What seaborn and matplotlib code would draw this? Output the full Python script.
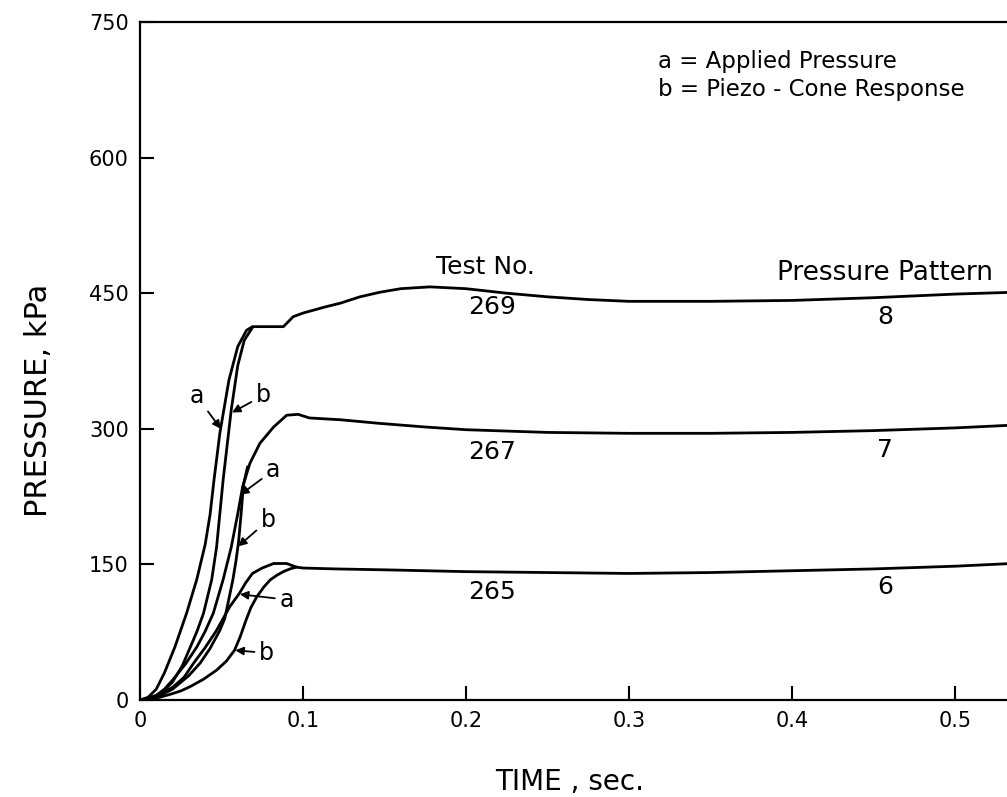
import matplotlib
matplotlib.use("Agg")
import matplotlib.pyplot as plt
import seaborn as sns

# time (s) and pressure (kPa)
# test 269 (pressure pattern 8)
t_269a = [0, 0.005, 0.010, 0.015, 0.0215, 0.0286, 0.0348, 0.040, 0.043, 0.0454, 0.049, 0.0546,
          0.060, 0.0654, 0.069, 0.076, 0.083, 0.088, 0.094, 0.100, 0.106, 0.114, 0.123, 0.135,
          0.147, 0.160, 0.178, 0.200, 0.225, 0.250, 0.275, 0.300, 0.350, 0.400, 0.450, 0.500, 0.535]
p_269a = [0, 3, 12, 30, 59, 96, 133, 172, 205, 243, 295, 354,
          391, 409, 413, 413, 413, 413, 424, 428, 431, 435, 439, 446,
          451, 455, 457, 455, 450, 446, 443, 441, 441, 442, 445, 449, 451]
t_269b = [0, 0.005, 0.010, 0.015, 0.020, 0.026, 0.031, 0.035, 0.039, 0.044, 0.047, 0.049, 0.051,
          0.056, 0.060, 0.064, 0.069]
p_269b = [0, 2, 5, 11, 20, 38, 59, 76, 96, 133, 169, 206, 243, 321, 370, 398, 412]

# test 267 (pressure pattern 7)
t_267a = [0, 0.005, 0.010, 0.015, 0.020, 0.028, 0.035, 0.040, 0.045, 0.051, 0.056, 0.060, 0.063,
          0.0675, 0.0736, 0.082, 0.090, 0.097, 0.104, 0.123, 0.147, 0.175, 0.200, 0.250, 0.300,
          0.350, 0.400, 0.450, 0.500, 0.535]
p_267a = [0, 1, 5, 12, 22, 40, 59, 76, 96, 133, 169, 206, 236,
          262, 284, 302, 315, 316, 312, 310, 306, 302, 299, 296, 295,
          295, 296, 298, 301, 304]
t_267b = [0, 0.005, 0.010, 0.020, 0.030, 0.037, 0.043, 0.049, 0.052, 0.054, 0.057, 0.059, 0.0605,
          0.062, 0.0635, 0.066]
p_267b = [0, 1, 3, 12, 27, 41, 57, 77, 90, 107, 133, 155, 175, 205, 238, 258]

# test 265 (pressure pattern 6)
t_265a = [0, 0.005, 0.010, 0.020, 0.027, 0.033, 0.040, 0.047, 0.051, 0.055, 0.061, 0.065, 0.069,
          0.075, 0.082, 0.090, 0.096]
p_265a = [0, 1, 4, 14, 25, 41, 58, 77, 90, 103, 118, 130, 140, 146, 151, 151, 147]
t_265b = [0, 0.010, 0.018, 0.025, 0.031, 0.039, 0.047, 0.053, 0.058, 0.0615, 0.065, 0.068, 0.0716,
          0.076, 0.080, 0.084, 0.088, 0.092, 0.096, 0.100, 0.120, 0.150, 0.200, 0.250, 0.300,
          0.350, 0.400, 0.450, 0.500, 0.535]
p_265b = [0, 2, 6, 10, 15, 23, 33, 43, 55, 70, 88, 102, 114,
          125, 133, 138, 142, 145, 147, 146, 145, 144, 142, 141, 140,
          141, 143, 145, 148, 151]

x_ticks = [0, 0.1, 0.2, 0.3, 0.4, 0.5]
x_tick_labels = ["0", "0.1", "0.2", "0.3", "0.4", "0.5"]
y_ticks = [0, 150, 300, 450, 600, 750]

test_numbers = ["269", "267", "265"]
patterns = ["8", "7", "6"]

sns.set_style("ticks")
plt.rcParams["font.family"] = ["DejaVu Sans"]
plt.rcParams["text.color"] = "black"
plt.rcParams["axes.labelcolor"] = "black"

fig = plt.figure(figsize=(10.07, 7.97), dpi=100)
ax = fig.add_axes([0.139, 0.1217, 0.861, 0.8507])

curves = [(t_269a, p_269a), (t_269b, p_269b), (t_267a, p_267a), (t_267b, p_267b),
          (t_265a, p_265a), (t_265b, p_265b)]
for t, p in curves:
    sns.lineplot(x=t, y=p, sort=False, estimator=None, color="black", linewidth=2.0, ax=ax)

ax.set_xlim(0, 0.532)
ax.set_ylim(0, 750)
ax.set_xticks(x_ticks)
ax.set_xticklabels(x_tick_labels)
ax.set_yticks(y_ticks)
ax.tick_params(direction="in", length=10, width=1.5, labelsize=15, pad=8,
               color="black", labelcolor="black")
for side in ["left", "bottom", "top"]:
    ax.spines[side].set_linewidth(1.6)
    ax.spines[side].set_color("black")
ax.spines["right"].set_visible(False)

ax.set_xlabel("TIME , sec.", fontsize=20)
ax.xaxis.set_label_coords(0.496, -0.100)
ax.set_ylabel("PRESSURE, kPa", fontsize=22)
ax.yaxis.set_label_coords(-0.100, 0.442)

# a / b labels with arrows
arrow = dict(arrowstyle="-|>", color="black", lw=1.3, mutation_scale=12, shrinkA=1, shrinkB=0)
labels = [("a", (0.0496, 300), (0.0348, 336)),
          ("b", (0.0565, 318), (0.0757, 337)),
          ("a", (0.0615, 227), (0.0818, 254)),
          ("b", (0.0603, 170), (0.0787, 199)),
          ("a", (0.0613, 117), (0.0900, 111)),
          ("b", (0.0585, 55), (0.0777, 52))]
for txt, tip, pos in labels:
    ax.annotate(txt, xy=tip, xytext=pos, fontsize=17, ha="center", va="center",
                arrowprops=arrow)

ax.text(0.318, 706, "a = Applied Pressure", fontsize=16.5, ha="left", va="center")
ax.text(0.318, 675, "b = Piezo - Cone Response", fontsize=16.5, ha="left", va="center")

ax.text(0.212, 479, "Test No.", fontsize=18, ha="center", va="center")
ax.text(0.457, 472, "Pressure Pattern", fontsize=19, ha="center", va="center")
for num, y in zip(test_numbers, [435, 274, 119]):
    ax.text(0.216, y, num, fontsize=18, ha="center", va="center")
for pat, y in zip(patterns, [424, 276, 125]):
    ax.text(0.457, y, pat, fontsize=18, ha="center", va="center")

fig.savefig("out.png", dpi=100)
